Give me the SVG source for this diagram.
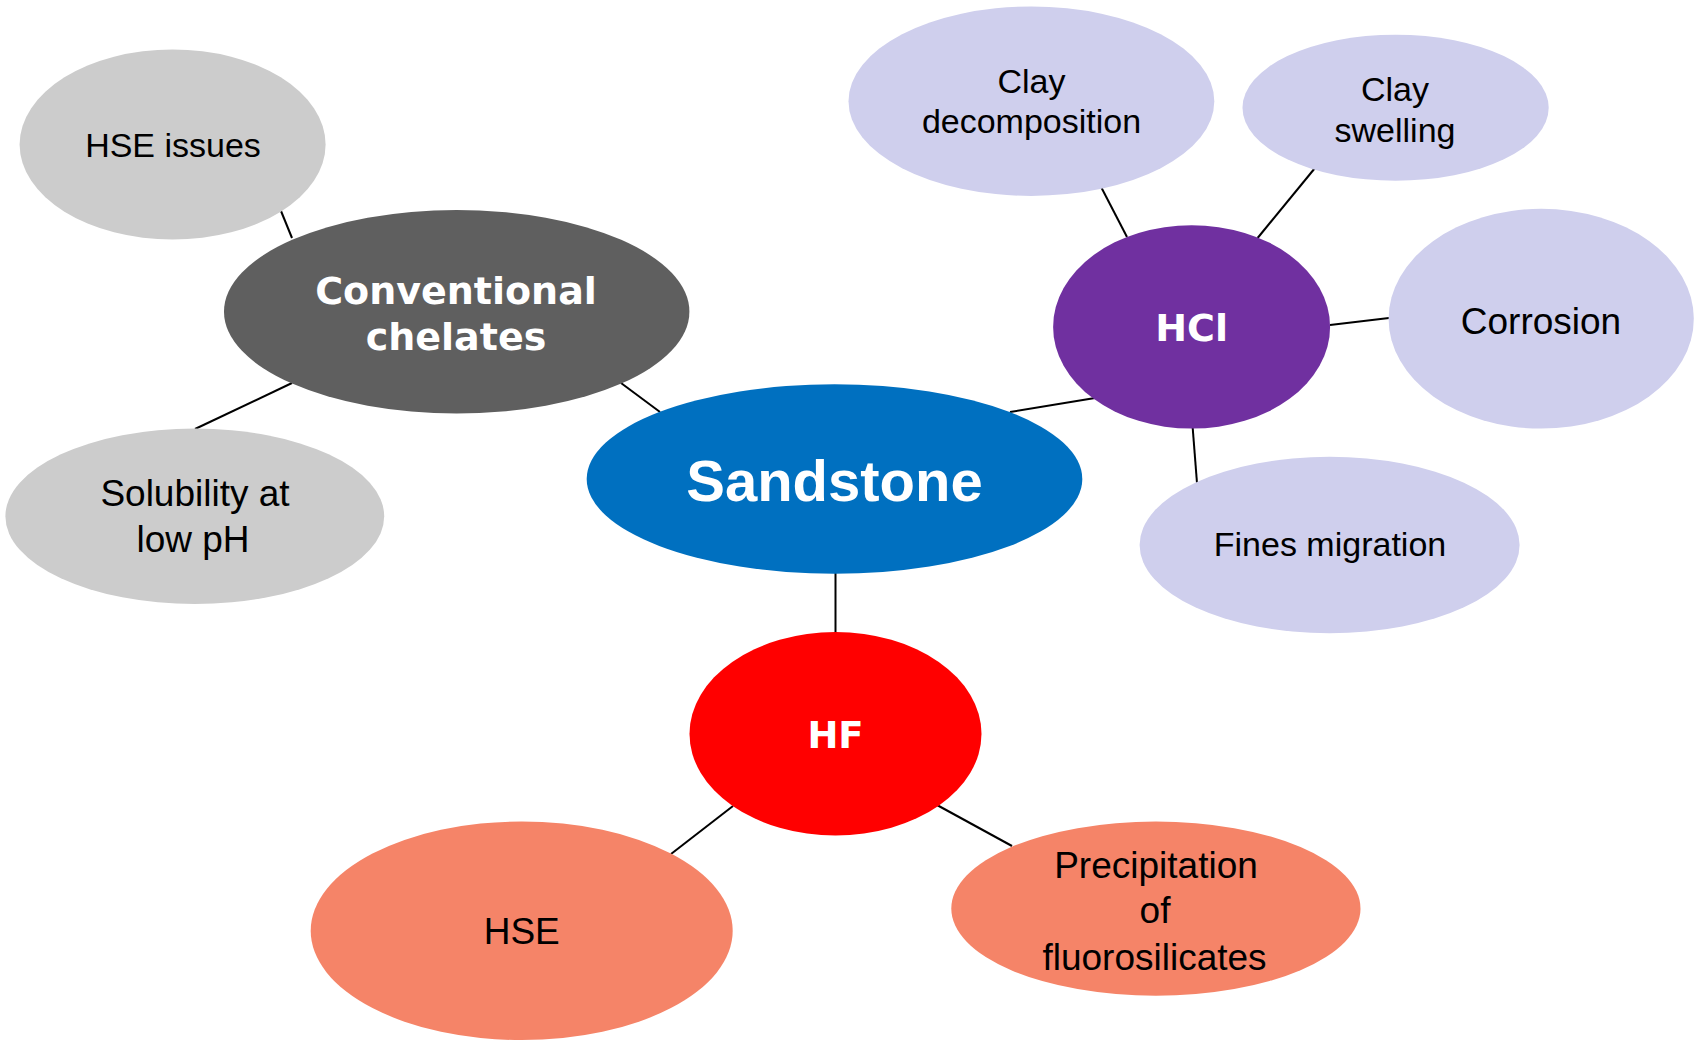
<svg xmlns="http://www.w3.org/2000/svg" width="1697" height="1041" viewBox="0 0 1697 1041">
<style>
.lbl{font-family:"Liberation Sans",Arial,sans-serif;font-size:34px;fill:#000;text-anchor:middle}
.big{font-size:37px}
.bold{font-family:"DejaVu Sans",Verdana,sans-serif;font-weight:bold;font-size:38px;fill:#fff;text-anchor:middle}
.sand{font-family:"Liberation Sans",Arial,sans-serif;font-weight:bold;font-size:58px;fill:#fff;text-anchor:middle}
.grey{fill:#CCCCCC}
.lav{fill:#CFCFED}
.sal{fill:#F58468}
line{stroke:#000;stroke-width:2}
</style>
<rect width="1697" height="1041" fill="#fff"/>
<g id="connectors">
<line x1="281" y1="211" x2="292" y2="238"/>
<line x1="292" y1="383" x2="195" y2="429"/>
<line x1="621" y1="383" x2="660" y2="412"/>
<line x1="1010" y1="412" x2="1095" y2="398"/>
<line x1="1098.5" y1="182" x2="1127" y2="237"/>
<line x1="1315" y1="168" x2="1257.6" y2="238"/>
<line x1="1330" y1="325" x2="1389" y2="318"/>
<line x1="1192.7" y1="428" x2="1197" y2="483"/>
<line x1="835.5" y1="573" x2="835.5" y2="633"/>
<line x1="733" y1="806" x2="671" y2="854"/>
<line x1="937" y1="805" x2="1012" y2="846"/>
</g>
<g id="hse-issues">
<ellipse class="grey" cx="172.6" cy="144.5" rx="153" ry="95"/>
<text class="lbl" x="173" y="157">HSE issues</text>
</g>
<g id="conventional-chelates">
<ellipse fill="#5F5F5F" cx="456.7" cy="311.7" rx="232.7" ry="101.7"/>
<text class="bold" x="456" y="304">Conventional</text>
<text class="bold" x="456" y="350">chelates</text>
</g>
<g id="solubility">
<ellipse class="grey" cx="194.8" cy="516.3" rx="189.4" ry="87.7"/>
<text class="lbl big" x="195" y="506">Solubility at</text>
<text class="lbl big" x="193" y="552">low pH</text>
</g>
<g id="sandstone">
<ellipse fill="#0070C0" cx="834.5" cy="479" rx="247.8" ry="94.7"/>
<text class="sand" x="834.5" y="501">Sandstone</text>
</g>
<g id="clay-decomposition">
<ellipse class="lav" cx="1031.4" cy="101.2" rx="182.9" ry="94.7"/>
<text class="lbl" x="1031.5" y="93">Clay</text>
<text class="lbl" x="1031.5" y="133">decomposition</text>
</g>
<g id="clay-swelling">
<ellipse class="lav" cx="1395.6" cy="107.7" rx="153.1" ry="73"/>
<text class="lbl" x="1395" y="100.7">Clay</text>
<text class="lbl" x="1395" y="141.8">swelling</text>
</g>
<g id="hcl">
<ellipse fill="#7030A0" cx="1191.6" cy="326.9" rx="138.5" ry="101.7"/>
<text class="bold" x="1191.6" y="341">HCl</text>
</g>
<g id="corrosion">
<ellipse class="lav" cx="1541.2" cy="318.7" rx="152.6" ry="109.9"/>
<text class="lbl big" x="1541" y="334">Corrosion</text>
</g>
<g id="fines-migration">
<ellipse class="lav" cx="1329.6" cy="545" rx="190" ry="88.2"/>
<text class="lbl" x="1330" y="556.3">Fines migration</text>
</g>
<g id="hf">
<ellipse fill="#FF0000" cx="835.5" cy="733.8" rx="146" ry="101.7"/>
<text class="bold" x="835.5" y="747.5" style="font-size:37px">HF</text>
</g>
<g id="hse">
<ellipse class="sal" cx="521.7" cy="930.8" rx="211" ry="109.3"/>
<text class="lbl big" x="521.7" y="944">HSE</text>
</g>
<g id="precipitation">
<ellipse class="sal" cx="1155.9" cy="908.6" rx="204.6" ry="87.1"/>
<text class="lbl big" x="1156" y="877.7">Precipitation</text>
<text class="lbl big" x="1155" y="923">of</text>
<text class="lbl big" x="1154.5" y="969.8">fluorosilicates</text>
</g>
</svg>
